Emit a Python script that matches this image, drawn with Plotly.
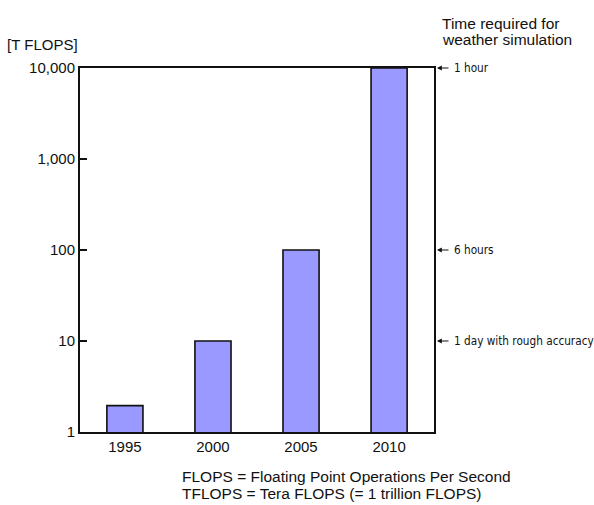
import math
import plotly.graph_objects as go

years = ["1995", "2000", "2005", "2010"]
tflops = [1.95, 10, 100, 10000]
ytick_vals = [1, 10, 100, 1000, 10000]
ytick_text = ["1", "10", "100", "1,000", "10,000"]
time_labels = ["1 hour", "6 hours", "1 day with rough accuracy"]
time_levels = [10000, 100, 10]
footer_lines = ["FLOPS = Floating Point Operations Per Second",
                "TFLOPS = Tera FLOPS (= 1 trillion FLOPS)"]
title_lines = ["Time required for", "weather simulation"]

W, H = 594, 505
L, R, T, B = 80, 160, 68, 73
pw, ph = W - L - R, H - T - B

def px(xp):
    return (xp - L) / pw

def py(yp):
    return 1 - (yp - T) / ph

fig = go.Figure()
fig.add_trace(go.Bar(
    x=list(range(len(years))), y=tflops, width=0.41,
    marker=dict(color="#9999ff", line=dict(color="#111111", width=1.6)),
    hoverinfo="skip",
))

fig.update_layout(
    width=W, height=H,
    margin=dict(l=L, r=R, t=T, b=B),
    paper_bgcolor="white", plot_bgcolor="white",
    showlegend=False,
    font=dict(family="Liberation Sans, Arial", size=15, color="#111111"),
)
fig.update_xaxes(
    range=[-0.51, 3.51], tickvals=list(range(len(years))), ticktext=years,
    showline=True, linecolor="#111111", linewidth=2, mirror=True,
    showgrid=False, zeroline=False, ticks="",
    tickfont=dict(size=15),
)
fig.update_yaxes(
    type="log", range=[0, 4], tickvals=ytick_vals, ticktext=ytick_text,
    showline=True, linecolor="#111111", linewidth=2, mirror=True,
    showgrid=False, zeroline=False, ticks="inside", ticklen=7, tickwidth=1.5,
    tickcolor="#111111", tickfont=dict(size=15),
)

fig.add_annotation(text="[T FLOPS]", xref="paper", yref="paper", x=px(5), y=py(44),
                   xanchor="left", yanchor="middle", showarrow=False, font=dict(size=15))
for i, line in enumerate(title_lines):
    fig.add_annotation(text=line, xref="paper", yref="paper", x=px(440), y=py(23 + 16 * i),
                       xanchor="left", yanchor="middle", showarrow=False, font=dict(size=15.5))
for lab, lv in zip(time_labels, time_levels):
    yl = math.log10(lv)
    fig.add_annotation(text=" ", xref="paper", yref="y", x=px(437), y=yl,
                       ax=15, ay=0, showarrow=True, arrowhead=2, arrowsize=0.8,
                       arrowwidth=1.2, arrowcolor="#111111")
    fig.add_annotation(text=lab, xref="paper", yref="y", x=px(452), y=yl,
                       xanchor="left", yanchor="middle", showarrow=False,
                       font=dict(family="Liberation Sans Narrow, DejaVu Sans Condensed", size=11.7))
for i, line in enumerate(footer_lines):
    fig.add_annotation(text=line, xref="paper", yref="paper", x=px(180), y=py(476 + 17.5 * i),
                       xanchor="left", yanchor="middle", showarrow=False, font=dict(size=15.5))

fig.write_html("out.html", post_script="document.body.style.margin='0';",
               config={"displayModeBar": False})
